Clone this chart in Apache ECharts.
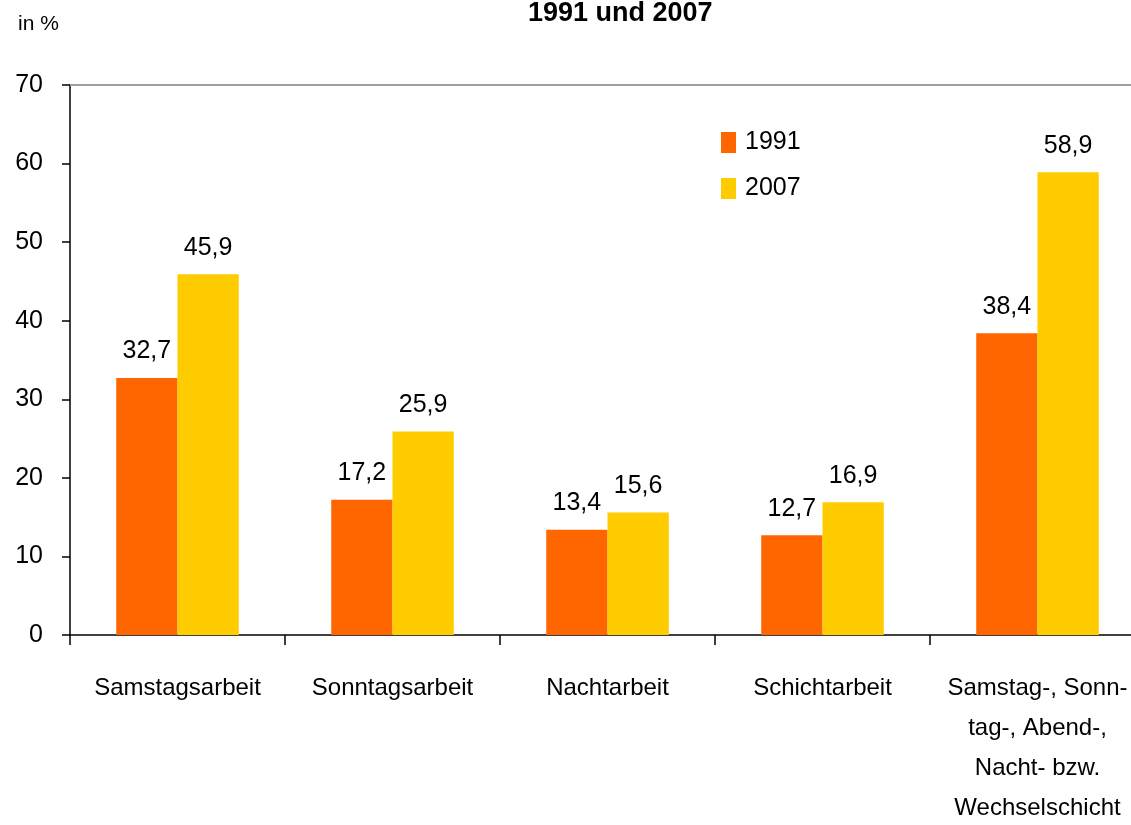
<!DOCTYPE html>
<html>
<head>
<meta charset="utf-8">
<script src="https://cdn.jsdelivr.net/npm/echarts@6/dist/echarts.min.js"></script>
<style>
  html, body { margin: 0; padding: 0; background: #fff; }
  #grafico { width: 1131px; height: 825px; }
</style>
</head>
<body>
<div id="grafico"></div>
<script>
var kategorien = [
  "Samstagsarbeit",
  "Sonntagsarbeit",
  "Nachtarbeit",
  "Schichtarbeit",
  "Samstag-, Sonn-\ntag-, Abend-,\nNacht- bzw.\nWechselschicht"
];
var werte1991 = [32.7, 17.2, 13.4, 12.7, 38.4];
var werte2007 = [45.9, 25.9, 15.6, 16.9, 58.9];
var yTicks = [0, 10, 20, 30, 40, 50, 60, 70];

var schrift = "'Liberation Sans', Arial, sans-serif";

function komma(p) {
  return String(p.value).replace(".", ",");
}

echarts.init(document.querySelector("#grafico")).setOption({
  animation: false,
  textStyle: { fontFamily: schrift, color: "#000" },
  title: {
    text: "1991 und 2007",
    left: 523,
    top: -5,
    textStyle: { fontFamily: schrift, fontSize: 27, fontWeight: "bold", color: "#000" }
  },
  graphic: [{
    type: "text",
    left: 18,
    top: 14,
    style: { text: "in %", fontFamily: schrift, fontSize: 21, fill: "#000" }
  }],
  legend: {
    orient: "vertical",
    left: 716,
    top: 125,
    icon: "rect",
    itemWidth: 15,
    itemHeight: 21,
    itemGap: 21,
    textStyle: { fontFamily: schrift, fontSize: 25, color: "#000", padding: [0, 0, 0, 4] },
    data: ["1991", "2007"]
  },
  grid: { left: 70, top: 85, width: 1075, height: 550, outerBoundsMode: "none" },
  xAxis: {
    type: "category",
    data: kategorien,
    axisLine: { lineStyle: { color: "#000", width: 1.5 } },
    axisTick: { show: true, length: 10, lineStyle: { color: "#000", width: 1.5 } },
    axisLabel: {
      fontFamily: schrift, fontSize: 24, color: "#000",
      lineHeight: 40, margin: 33, interval: 0
    }
  },
  yAxis: {
    type: "value",
    min: yTicks[0],
    max: yTicks[yTicks.length - 1],
    interval: 10,
    axisLine: { show: true, lineStyle: { color: "#000", width: 1.5 } },
    axisTick: { show: true, length: 8, lineStyle: { color: "#000", width: 1.5 } },
    splitLine: { show: false },
    axisLabel: { fontFamily: schrift, fontSize: 25, color: "#000", margin: 27 }
  },
  series: [
    {
      name: "1991",
      type: "bar",
      data: werte1991,
      barGap: "0%",
      barCategoryGap: "43%",
      itemStyle: { color: "#FF6600" },
      label: { show: true, position: "top", distance: 14, formatter: komma,
               fontFamily: schrift, fontSize: 25, color: "#000" },
      markLine: {
        silent: true,
        symbol: "none",
        label: { show: false },
        lineStyle: { color: "#A0A0A0", width: 2, type: "solid" },
        data: [{ yAxis: 70 }]
      }
    },
    {
      name: "2007",
      type: "bar",
      data: werte2007,
      barGap: "0%",
      barCategoryGap: "43%",
      itemStyle: { color: "#FFCC00" },
      label: { show: true, position: "top", distance: 14, formatter: komma,
               fontFamily: schrift, fontSize: 25, color: "#000" }
    }
  ]
});
</script>
</body>
</html>
